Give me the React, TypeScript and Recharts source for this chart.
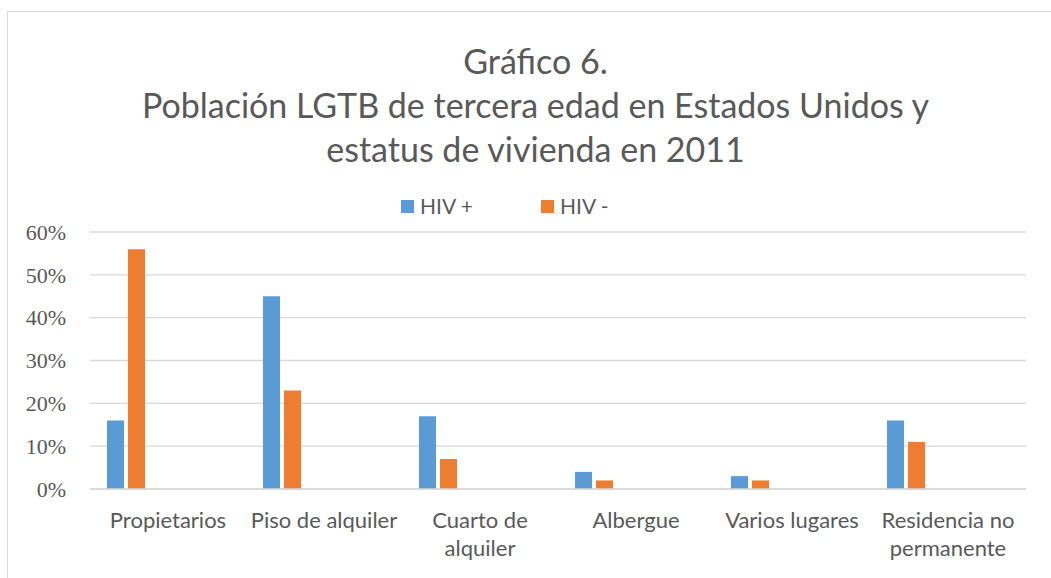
import { Bar, BarChart, CartesianGrid, Legend, XAxis, YAxis } from "recharts";

const categories = [
  "Propietarios",
  "Piso de alquiler",
  "Cuarto de alquiler",
  "Albergue",
  "Varios lugares",
  "Residencia no permanente",
];
// how Excel wrapped each category label
const tickLines: string[][] = [
  ["Propietarios"],
  ["Piso de alquiler"],
  ["Cuarto de", "alquiler"],
  ["Albergue"],
  ["Varios lugares"],
  ["Residencia no", "permanente"],
];
const hivPositive = [0.16, 0.45, 0.17, 0.04, 0.03, 0.16];
const hivNegative = [0.56, 0.23, 0.07, 0.02, 0.02, 0.11];
const yTicks = [0, 0.1, 0.2, 0.3, 0.4, 0.5, 0.6];
const titleLines = [
  "Gráfico 6.",
  "Población LGTB de tercera edad en Estados Unidos y",
  "estatus de vivienda en 2011",
];

const SANS = "Lato, 'Open Sans', sans-serif";
const GREY = "#595959";

const data = categories.map((name, i) => ({
  name,
  pos: hivPositive[i],
  neg: hivNegative[i],
}));

function CategoryTick({ x, y, index }: any) {
  const lines = tickLines[index] ?? [];
  return (
    <text x={x} y={y + 31} textAnchor="middle" fill={GREY} fontFamily={SANS} fontSize={22}>
      {lines.map((line, i) => (
        <tspan key={i} x={x} dy={i === 0 ? 0 : 28}>
          {line}
        </tspan>
      ))}
    </text>
  );
}

function LegendContent({ payload }: any) {
  const items = (payload ?? []).filter((p: any) => p.type !== "none");
  return (
    <div style={{ position: "relative", height: 20, width: 1051 }}>
      {items.map((item: any, i: number) => (
        <div
          key={item.value}
          style={{ position: "absolute", left: 401 + i * 140, top: 0, display: "flex", alignItems: "center" }}
        >
          <span style={{ width: 13, height: 13, background: item.color, display: "inline-block" }} />
          <span style={{ marginLeft: 6, color: GREY, fontFamily: SANS, fontSize: 21, lineHeight: "20px" }}>
            {item.value}
          </span>
        </div>
      ))}
    </div>
  );
}

export default function App() {
  return (
    <div style={{ position: "absolute", left: 0, top: 0, width: 1051, height: 578, overflow: "hidden", background: "#fff" }}>
      <div
        style={{
          position: "absolute",
          left: 7,
          top: 11,
          width: 1060,
          height: 600,
          border: "1px solid #d9d9d9",
        }}
      />
      <div style={{ position: "absolute", left: 0, top: 39, width: 1071, textAlign: "center" }}>
        {titleLines.map((line) => (
          <div key={line} style={{ fontFamily: SANS, fontSize: 34, lineHeight: "44px", color: GREY }}>
            {line}
          </div>
        ))}
      </div>
      <div style={{ position: "absolute", left: 0, top: 0 }}>
        <BarChart
          width={1051}
          height={578}
          data={data}
          margin={{ top: 212, right: 25, bottom: 49, left: 10 }}
          barSize={17}
          barGap={4}
        >
          <CartesianGrid vertical={false} stroke="#d9d9d9" strokeWidth={1.4} />
          <XAxis
            dataKey="name"
            interval={0}
            height={40}
            tick={<CategoryTick />}
            tickLine={false}
            axisLine={{ stroke: "#d9d9d9", strokeWidth: 1.4 }}
          />
          <YAxis
            width={80}
            domain={[0, 0.6]}
            ticks={yTicks}
            tickFormatter={(v) => `${Math.round(Number(v) * 100)}%`}
            tick={{ fill: GREY, fontFamily: "'Liberation Serif', 'Times New Roman', serif", fontSize: 22 }}
            tickMargin={18}
            tickLine={false}
            axisLine={false}
          />
          <Legend
            verticalAlign="top"
            content={<LegendContent />}
            wrapperStyle={{ top: 196, left: 0, width: 1051 }}
          />
          <Bar dataKey="pos" name="HIV +" fill="#5b9bd5" isAnimationActive={false} />
          <Bar dataKey="neg" name="HIV -" fill="#ed7d31" isAnimationActive={false} />
          <Bar dataKey="h1" legendType="none" fill="transparent" isAnimationActive={false} />
          <Bar dataKey="h2" legendType="none" fill="transparent" isAnimationActive={false} />
          <Bar dataKey="h3" legendType="none" fill="transparent" isAnimationActive={false} />
          <Bar dataKey="h4" legendType="none" fill="transparent" isAnimationActive={false} />
        </BarChart>
      </div>
    </div>
  );
}
